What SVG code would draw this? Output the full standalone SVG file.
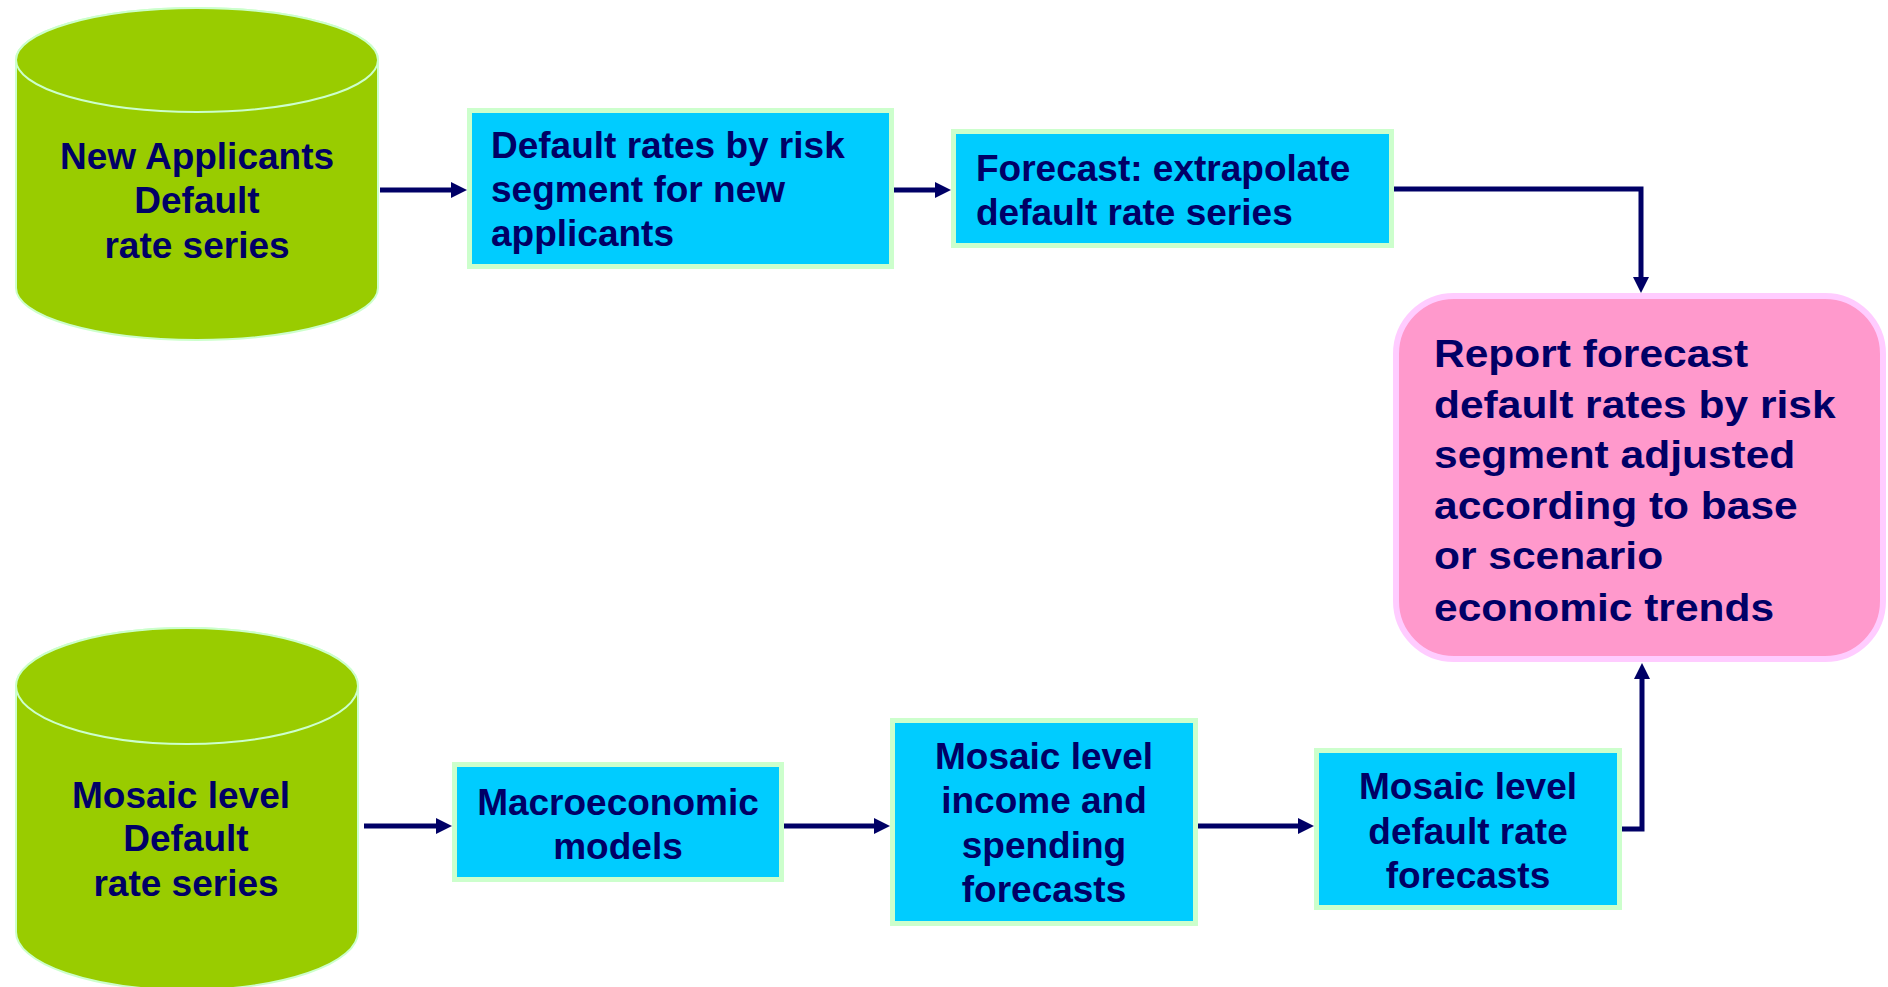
<svg xmlns="http://www.w3.org/2000/svg" width="1888" height="987" viewBox="0 0 1888 987">
<style>
text{font-family:"Liberation Sans",Arial,sans-serif;font-weight:bold;font-size:37px;fill:#000066}
.c{text-anchor:middle}
.cyl{fill:#99cc00;stroke:#ccffcc;stroke-width:2}
.box{fill:#00ccff;stroke:#ccffcc;stroke-width:5}
.pink{fill:#ff99cc;stroke:#ffccff;stroke-width:6}
.con{fill:none;stroke:#000066;stroke-width:5;marker-end:url(#ah)}
</style>
<defs>
<marker id="ah" markerUnits="userSpaceOnUse" markerWidth="16" markerHeight="16" refX="5" refY="8" orient="auto">
<path d="M0,0 L16,8 L0,16 Z" fill="#000066"/>
</marker>
</defs>
<rect width="1888" height="987" fill="#ffffff"/>
<g id="connectors">
<path class="con" d="M380,190 H456"/>
<path class="con" d="M894,190 H940"/>
<path class="con" d="M1394,189 H1641 V282"/>
<path class="con" d="M364,826 H441"/>
<path class="con" d="M784,826 H879"/>
<path class="con" d="M1198,826 H1303"/>
<path class="con" d="M1622,829 H1642 V674"/>
</g>
<g id="cyl1">
<path class="cyl" d="M16,60 V288 A181,52 0 0 0 378,288 V60 A181,52 0 0 0 16,60 Z"/>
<ellipse class="cyl" cx="197" cy="60" rx="181" ry="52"/>
<text class="c" x="197" y="169">New Applicants</text>
<text class="c" x="197" y="213">Default</text>
<text class="c" x="197" y="258">rate series</text>
</g>
<g id="box1">
<rect class="box" x="469.5" y="110.5" width="422" height="156"/>
<text x="491" y="158">Default rates by risk</text>
<text x="491" y="202">segment for new</text>
<text x="491" y="246">applicants</text>
</g>
<g id="box2">
<rect class="box" x="953.5" y="131.5" width="438" height="114"/>
<text x="976" y="181">Forecast: extrapolate</text>
<text x="976" y="225">default rate series</text>
</g>
<g id="report">
<rect class="pink" x="1396" y="296" width="487" height="363" rx="58" ry="58"/>
<g transform="translate(1434,0) scale(1.09,1)">
<text x="0" y="367" style="font-size:39px">Report forecast</text>
<text x="0" y="418" style="font-size:39px">default rates by risk</text>
<text x="0" y="468" style="font-size:39px">segment adjusted</text>
<text x="0" y="519" style="font-size:39px">according to base</text>
<text x="0" y="569" style="font-size:39px">or scenario</text>
<text x="0" y="621" style="font-size:39px">economic trends</text>
</g>
</g>
<g id="cyl2">
<path class="cyl" d="M16,686 V932 A171,58 0 0 0 358,932 V686 A171,58 0 0 0 16,686 Z"/>
<ellipse class="cyl" cx="187" cy="686" rx="171" ry="58"/>
<text class="c" x="181" y="808">Mosaic level</text>
<text class="c" x="186" y="851">Default</text>
<text class="c" x="186" y="896">rate series</text>
</g>
<g id="macro">
<rect class="box" x="454.5" y="764.5" width="327" height="115"/>
<text class="c" x="618" y="815">Macroeconomic</text>
<text class="c" x="618" y="859">models</text>
</g>
<g id="income">
<rect class="box" x="892.5" y="720.5" width="303" height="203"/>
<text class="c" x="1044" y="769">Mosaic level</text>
<text class="c" x="1044" y="813">income and</text>
<text class="c" x="1044" y="858">spending</text>
<text class="c" x="1044" y="902">forecasts</text>
</g>
<g id="mosaicdefault">
<rect class="box" x="1316.5" y="750.5" width="303" height="157"/>
<text class="c" x="1468" y="799">Mosaic level</text>
<text class="c" x="1468" y="844">default rate</text>
<text class="c" x="1468" y="888">forecasts</text>
</g>
</svg>
